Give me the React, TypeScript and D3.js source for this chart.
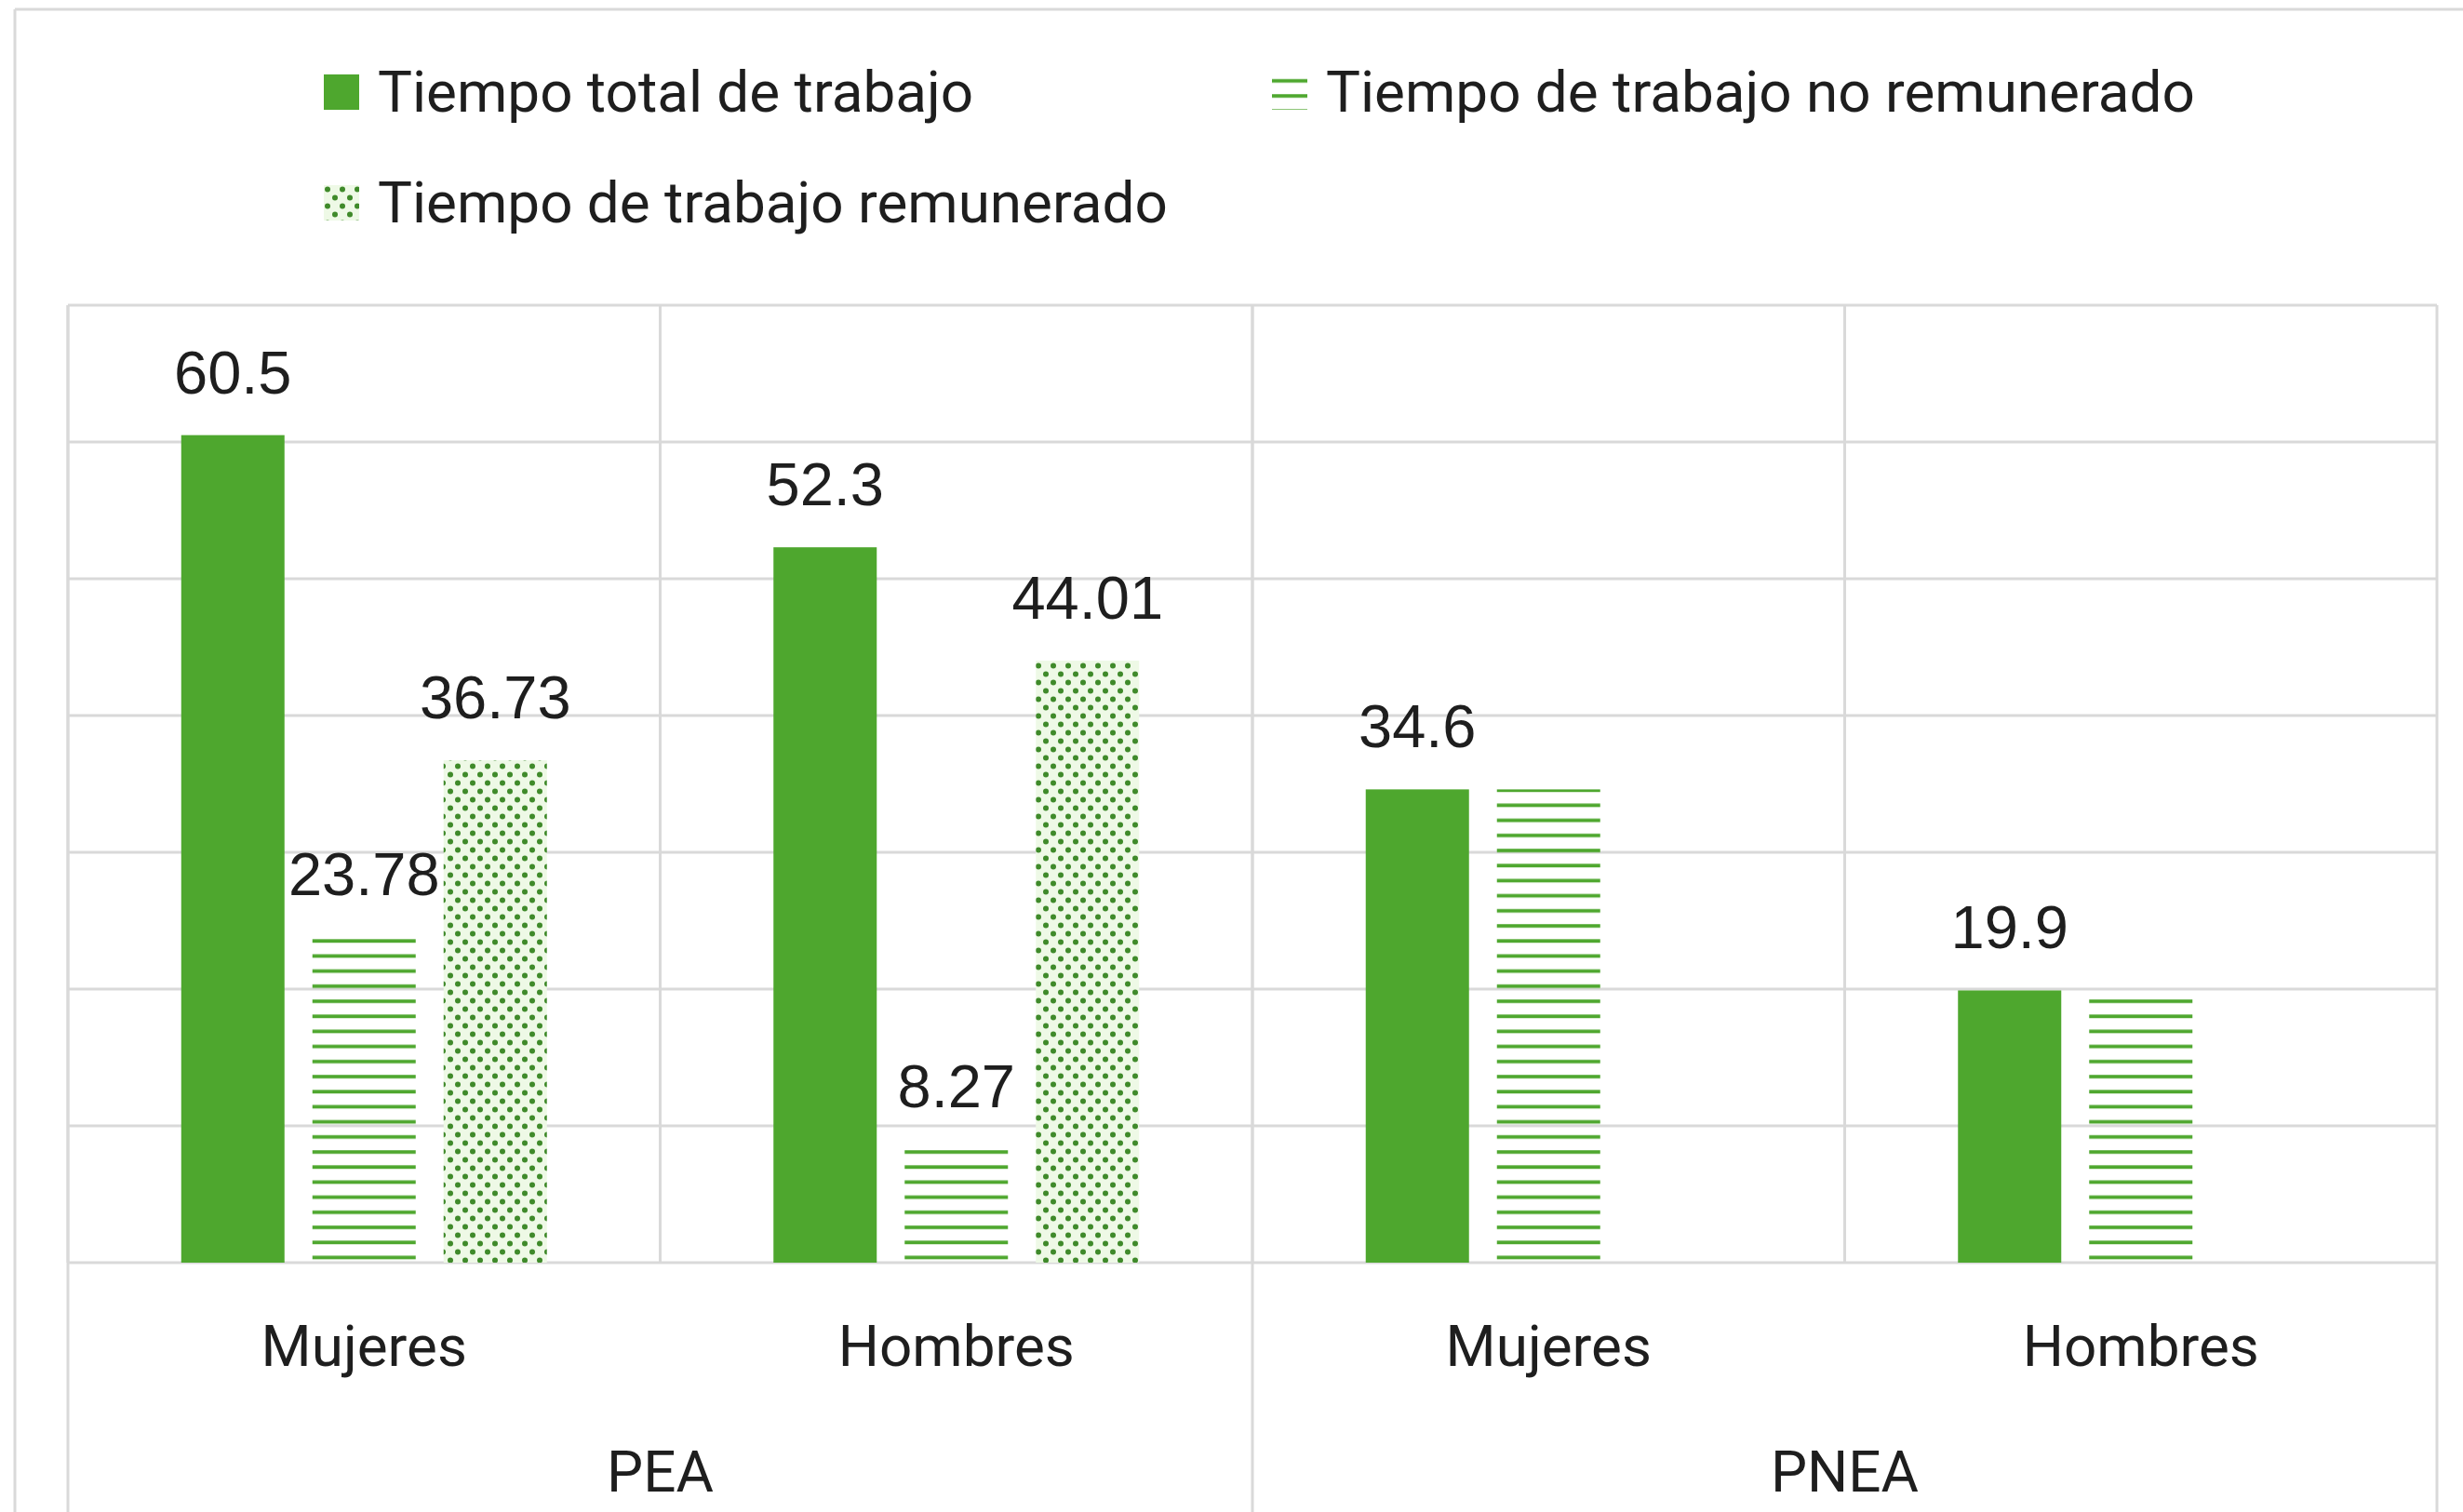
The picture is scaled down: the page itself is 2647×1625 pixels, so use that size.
import * as d3 from 'd3';

// categories (two-level axis)
const categoryGroups = ['PEA', 'PEA', 'PNEA', 'PNEA'];
const categoryLabels = ['Mujeres', 'Hombres', 'Mujeres', 'Hombres'];
const groupNames = ['PEA', 'PNEA'];

// series
const seriesNames = [
  'Tiempo total de trabajo',
  'Tiempo de trabajo no remunerado',
  'Tiempo de trabajo remunerado',
];
const totalTrabajo = [60.5, 52.3, 34.6, 19.9];
const noRemunerado = [23.78, 8.27, 34.6, 19.9];
const remunerado = [36.73, 44.01, null, null];

// which values carry a data label
const totalLabelled = [true, true, true, true];
const noRemuneradoLabelled = [true, true, false, false];
const remuneradoLabelled = [true, true, false, false];

const yTicks = [0, 10, 20, 30, 40, 50, 60, 70];

const W = 2647;
const H = 1625;
const GREEN = '#4ea72e';
const GRID = '#d9d9d9';
const TEXT = '#1e1e1e';
const FONT = 'Roboto, "Noto Sans", sans-serif';
const LABEL_FONT = '"Liberation Sans", Arial, sans-serif';

const plot = { left: 73, right: 2619, top: 328, bottom: 1357 };

const App = () => {
  const keys = categoryLabels.map((c, i) => `${categoryGroups[i]}|${c}`);

  const x0 = d3.scaleBand<string>().domain(keys).range([plot.left, plot.right]).padding(0);

  const x1 = d3
    .scaleBand<number>()
    .domain([0, 1, 2])
    .range([0, x0.bandwidth()])
    .paddingInner(0.2128)
    .paddingOuter(0.8635);

  const y = d3.scaleLinear().domain([0, 70]).range([plot.bottom, plot.top]);

  const series = [
    { values: totalTrabajo, labelled: totalLabelled, fill: GREEN },
    { values: noRemunerado, labelled: noRemuneradoLabelled, fill: 'url(#hatch)' },
    { values: remunerado, labelled: remuneradoLabelled, fill: 'url(#dots)' },
  ];

  const fmt = (v: number) => String(v);

  // group spans for the second level of the axis
  const groupSpans = groupNames.map((g) => {
    const ks = keys.filter((k) => k.startsWith(g + '|'));
    const x0s = x0(ks[0]) as number;
    const x1s = (x0(ks[ks.length - 1]) as number) + x0.bandwidth();
    return { name: g, start: x0s, end: x1s };
  });

  const legendIcons = ['solid', 'url(#hatch)', 'url(#dots)'];
  const legendPos = [
    { x: 348, y: 80 },
    { x: 1367, y: 80 },
    { x: 348, y: 199 },
  ];

  return (
    <svg
      width={W}
      height={H}
      style={{ position: 'absolute', left: 0, top: 0, background: '#fff' }}
    >
      <defs>
        <pattern id="hatch" patternUnits="userSpaceOnUse" width={8} height={16.2}>
          <rect x={0} y={5} width={8} height={3.8} fill={GREEN} />
        </pattern>
        <pattern id="dots" patternUnits="userSpaceOnUse" width={16} height={18}>
          <rect width={16} height={18} fill="#eef9e6" />
          <circle cx={4} cy={4.5} r={3} fill="#3f8a2a" />
          <circle cx={12} cy={13.5} r={3} fill="#3f8a2a" />
        </pattern>
      </defs>

      <rect width={W} height={H} fill="#fff" />

      {/* outer frame */}
      <line x1={16} x2={W} y1={10} y2={10} stroke={GRID} strokeWidth={3} />
      <line x1={16} x2={16} y1={10} y2={H} stroke={GRID} strokeWidth={3} />

      {/* legend */}
      {seriesNames.map((name, i) => (
        <g key={name} transform={`translate(${legendPos[i].x},${legendPos[i].y})`}>
          <rect
            width={38}
            height={38}
            fill={legendIcons[i] === 'solid' ? GREEN : legendIcons[i]}
          />
          <text
            x={58}
            y={40}
            fontFamily={FONT}
            fontSize={62}
            fill={TEXT}
          >
            {name}
          </text>
        </g>
      ))}

      {/* horizontal gridlines */}
      {yTicks.map((t) => (
        <line
          key={t}
          x1={plot.left}
          x2={plot.right}
          y1={y(t)}
          y2={y(t)}
          stroke={GRID}
          strokeWidth={3}
        />
      ))}

      {/* vertical lines between categories in the plot */}
      {keys.map((k) => (
        <line
          key={k}
          x1={x0(k)}
          x2={x0(k)}
          y1={plot.top}
          y2={plot.bottom}
          stroke={GRID}
          strokeWidth={3}
        />
      ))}
      <line x1={plot.right} x2={plot.right} y1={plot.top} y2={H} stroke={GRID} strokeWidth={3} />
      {groupSpans.map((g) => (
        <line key={g.name} x1={g.start} x2={g.start} y1={plot.top} y2={H} stroke={GRID} strokeWidth={3} />
      ))}

      {/* bars */}
      {series.map((s, si) =>
        s.values.map((v, ci) =>
          v == null ? null : (
            <rect
              key={`${si}-${ci}`}
              x={(x0(keys[ci]) as number) + (x1(si) as number)}
              y={y(v)}
              width={x1.bandwidth()}
              height={y(0) - y(v)}
              fill={s.fill}
            />
          )
        )
      )}

      {/* data labels */}
      {series.map((s, si) =>
        s.values.map((v, ci) =>
          v == null || !s.labelled[ci] ? null : (
            <text
              key={`l${si}-${ci}`}
              x={(x0(keys[ci]) as number) + (x1(si) as number) + x1.bandwidth() / 2}
              y={y(v) - 45}
              textAnchor="middle"
              fontFamily={LABEL_FONT}
              fontSize={65}
              fill={TEXT}
            >
              {fmt(v)}
            </text>
          )
        )
      )}

      {/* category labels */}
      {keys.map((k, i) => (
        <text
          key={`c${k}`}
          x={(x0(k) as number) + x0.bandwidth() / 2}
          y={1468}
          textAnchor="middle"
          fontFamily={FONT}
          fontSize={62}
          fill={TEXT}
        >
          {categoryLabels[i]}
        </text>
      ))}
      {groupSpans.map((g) => (
        <text
          key={`g${g.name}`}
          x={(g.start + g.end) / 2}
          y={1603}
          textAnchor="middle"
          fontFamily={FONT}
          fontSize={62}
          fill={TEXT}
        >
          {g.name}
        </text>
      ))}
    </svg>
  );
};

export default App;
